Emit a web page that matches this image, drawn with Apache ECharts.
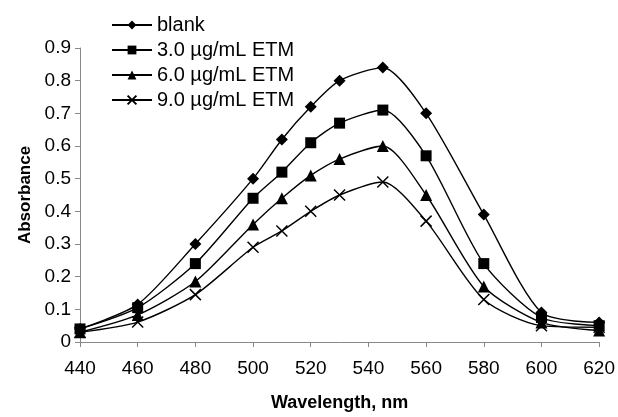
<!DOCTYPE html>
<html>
<head>
<meta charset="utf-8">
<script src="https://cdn.jsdelivr.net/npm/echarts@6/dist/echarts.min.js"></script>
<style>
  html, body { margin: 0; padding: 0; background: #fff; }
  #chart { width: 618px; height: 417px; }
</style>
</head>
<body>
<div id="chart"></div>
<script>
// wavelengths (nm) and absorbance readings
var wavelength = [440, 460, 480, 500, 510, 520, 530, 545, 560, 580, 600, 620];
var blank  = [0.04, 0.115, 0.30, 0.50, 0.62, 0.72, 0.80, 0.84, 0.70, 0.39, 0.09, 0.06];
var etm3   = [0.04, 0.105, 0.24, 0.44, 0.52, 0.61, 0.67, 0.71, 0.57, 0.24, 0.075, 0.05];
var etm6   = [0.03, 0.083, 0.185, 0.36, 0.44, 0.51, 0.56, 0.60, 0.45, 0.17, 0.06, 0.035];
var etm9   = [0.03, 0.061, 0.145, 0.29, 0.34, 0.40, 0.45, 0.49, 0.37, 0.13, 0.05, 0.045];
var names  = ['blank', '3.0 µg/mL ETM', '6.0 µg/mL ETM', '9.0 µg/mL ETM'];

var font = 'Liberation Sans, Arial, sans-serif';
var crossPath = 'path://M0,0L10,10M10,0L0,10';

function pairs(vals) {
    return wavelength.map(function (w, i) { return [w, vals[i]]; });
}

function mkSeries(name, vals, symbol, size) {
    return {
        name: name,
        type: 'line',
        data: pairs(vals),
        smooth: 0.25,
        symbol: symbol,
        symbolSize: size,
        lineStyle: { color: '#000', width: 1.4 },
        itemStyle: { color: '#000', borderColor: '#000', borderWidth: symbol === crossPath ? 1.5 : 0 },
        emphasis: { disabled: true }
    };
}

var chart = echarts.init(document.getElementById('chart'), null, { renderer: 'canvas' });
chart.setOption({
    animation: false,
    backgroundColor: '#fff',
    grid: { left: 80, right: 12, top: 48, bottom: 71 },
    legend: {
        orient: 'vertical',
        left: 106,
        top: 10,
        itemWidth: 40,
        itemHeight: 11,
        itemGap: 5,
        textStyle: { fontFamily: font, fontSize: 20, color: '#000' },
        data: names
    },
    xAxis: {
        type: 'value',
        min: 440, max: 620, interval: 20,
        name: 'Wavelength, nm',
        nameLocation: 'middle',
        nameGap: 52,
        nameTextStyle: { fontFamily: font, fontSize: 18, fontWeight: 'bold', color: '#000' },
        axisLine: { lineStyle: { color: '#888' } },
        axisTick: { show: true, length: 5, lineStyle: { color: '#888' } },
        axisLabel: { fontFamily: font, fontSize: 19, color: '#000', margin: 17 },
        splitLine: { show: false }
    },
    yAxis: {
        type: 'value',
        min: 0, max: 0.9, interval: 0.1,
        name: 'Absorbance',
        nameLocation: 'middle',
        nameGap: 46,
        nameTextStyle: { fontFamily: font, fontSize: 17, fontWeight: 'bold', color: '#000' },
        axisLine: { show: true, lineStyle: { color: '#888' } },
        axisTick: { show: true, length: 5, lineStyle: { color: '#888' } },
        axisLabel: { fontFamily: font, fontSize: 19, color: '#000', margin: 9,
            formatter: function (v) { return v === 0 ? '0' : v.toFixed(1); } },
        splitLine: { show: false }
    },
    series: [
        mkSeries(names[0], blank, 'diamond', 12),
        mkSeries(names[1], etm3, 'rect', 11),
        mkSeries(names[2], etm6, 'triangle', 12),
        mkSeries(names[3], etm9, crossPath, 11)
    ]
});
</script>
</body>
</html>
